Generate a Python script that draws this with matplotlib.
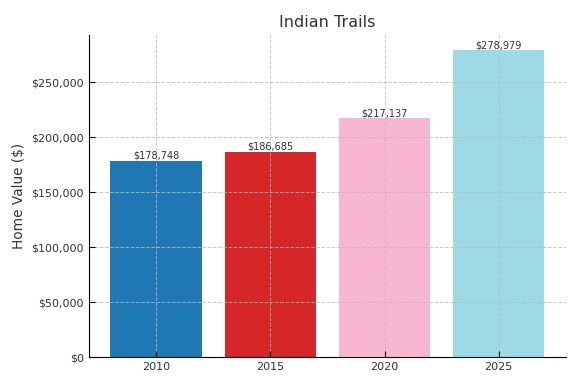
import matplotlib.pyplot as plt
import numpy as np

years = ['2010', '2015', '2020', '2025']
values = [178748, 186685, 217137, 278979]
colors = ['#1f77b4', '#d62728', '#f7b6d2', '#9edae5']

text_color = '#333333'
plt.rcParams['font.family'] = 'DejaVu Sans'

fig, ax = plt.subplots(figsize=(5.8, 3.86), dpi=100)
x_pos = np.arange(len(years))
bars = ax.bar(x_pos, values, color=colors, width=0.8)

for rect, v in zip(bars, values):
    ax.text(rect.get_x() + rect.get_width() / 2, v, '${:,.0f}'.format(v),
            ha='center', va='bottom', fontsize=7, color=text_color)

ax.set_xticks(x_pos)
ax.set_xticklabels(years)
ax.yaxis.set_major_formatter(plt.FuncFormatter(lambda v, p: '${:,.0f}'.format(v)))
ax.set_ylim(bottom=0)

ax.set_title('Indian Trails', fontsize=11.5, color=text_color)
ax.set_ylabel('Home Value ($)', fontsize=9.8, color=text_color)

ax.grid(True, linestyle='--', color='#bbbbbb', linewidth=0.7, alpha=0.8)
ax.set_axisbelow(False)
ax.tick_params(direction='in', labelsize=8, colors='black', labelcolor=text_color, length=4)
for s in ['top', 'right']:
    ax.spines[s].set_visible(False)

fig.subplots_adjust(left=0.153, right=0.976, top=0.909, bottom=0.075)
fig.savefig('out.png', dpi=100)
